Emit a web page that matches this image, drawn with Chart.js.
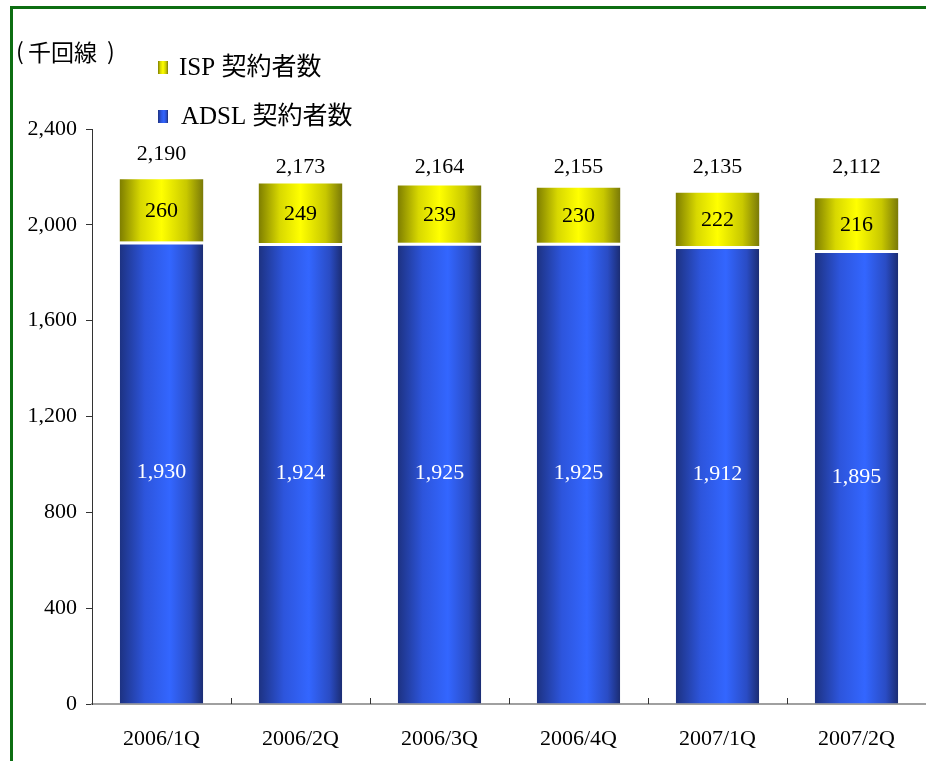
<!DOCTYPE html>
<html>
<head>
<meta charset="utf-8">
<script src="https://cdn.jsdelivr.net/npm/chart.js"></script>
<style>
  body { margin: 0; background: #fff; }
  #frame { position: absolute; left: 10px; top: 6px; width: 940px; height: 800px; border-left: 3px solid #0d6e12; border-top: 3px solid #0d6e12; }
  #chart { position: absolute; left: 0; top: 0; }
</style>
</head>
<body>
<div id="frame"></div>
<canvas id="chart" width="926" height="761"></canvas>
<script>
var quarters = ["2006/1Q", "2006/2Q", "2006/3Q", "2006/4Q", "2007/1Q", "2007/2Q"]
var adslValues = [1930, 1924, 1925, 1925, 1912, 1895]
var ispValues = [260, 249, 239, 230, 222, 216]
var totalValues = [2190, 2173, 2164, 2155, 2135, 2112]
var yTicks = [0, 400, 800, 1200, 1600, 2000, 2400]

var unitLabel = "千回線"
var ispLabel = "ISP 契約者数"
var adslLabel = "ADSL 契約者数"

var serif = '"Liberation Serif", "Noto Sans CJK JP", serif'
var barPct = 0.6

var blueStops = [[0, "#1d3282"], [0.3, "#2d55dc"], [0.6, "#3366ff"], [0.85, "#2a4cc4"], [1, "#1b2c72"]]
var yellowStops = [[0, "#7e7e00"], [0.25, "#d8d800"], [0.5, "#ffff00"], [0.8, "#c8c800"], [1, "#7a7a08"]]

function fmt(v) {
  return v.toLocaleString("en-US")
}

function makeGradient(ctx, x0, x1, stops) {
  var g = ctx.createLinearGradient(x0, 0, x1, 0)
  stops.forEach(function(s) { g.addColorStop(s[0], s[1]) })
  return g
}

function barFill(stops) {
  return function(context) {
    var chart = context.chart
    var xScale = chart.scales.x
    if (!xScale || !chart.chartArea || context.dataIndex == null) return stops[2][1]
    var center = xScale.getPixelForValue(context.dataIndex)
    var half = xScale.width / quarters.length * barPct / 2
    return makeGradient(chart.ctx, center - half, center + half, stops)
  }
}

var decorPlugin = {
  id: "decor",
  afterDatasetsDraw: function(chart) {
    var ctx = chart.ctx
    var xScale = chart.scales.x
    var yScale = chart.scales.y
    var adslMeta = chart.getDatasetMeta(0)
    var ispMeta = chart.getDatasetMeta(1)
    ctx.save()
    ctx.font = "22px " + serif
    ctx.textAlign = "center"
    ctx.textBaseline = "middle"
    adslMeta.data.forEach(function(el, i) {
      ctx.fillStyle = "#ffffff"
      ctx.fillText(fmt(adslValues[i]), el.x, (el.y + el.base) / 2)
    })
    ispMeta.data.forEach(function(el, i) {
      ctx.fillStyle = "#000000"
      ctx.fillText(fmt(ispValues[i]), el.x, (el.y + el.base) / 2 + 1)
      var ty = yScale.getPixelForValue(i == 0 ? 2295 : 2240)
      ctx.fillText(fmt(totalValues[i]), el.x, ty)
    })

    // category ticks point up from the axis
    var catW = xScale.width / quarters.length
    ctx.strokeStyle = "#333"
    ctx.lineWidth = 1
    for (var i = 1; i < quarters.length; i++) {
      var x = Math.round(xScale.left + catW * i) + 0.5
      ctx.beginPath()
      ctx.moveTo(x, yScale.bottom - 6)
      ctx.lineTo(x, yScale.bottom)
      ctx.stroke()
    }
    ctx.restore()
  },
  afterDraw: function(chart) {
    var ctx = chart.ctx
    ctx.save()
    ctx.textAlign = "left"
    ctx.textBaseline = "middle"
    ctx.fillStyle = "#000"
    ctx.font = '23px "Noto Sans CJK JP", sans-serif'
    ctx.fillText("(", 16, 51)
    ctx.fillText(unitLabel, 28, 52)
    ctx.fillText(")", 107, 51)

    ctx.font = "25px " + serif
    ctx.fillStyle = makeGradient(ctx, 158, 168, yellowStops)
    ctx.fillRect(158, 61, 10, 13)
    ctx.fillStyle = "#000"
    ctx.fillText(ispLabel, 179, 68)

    ctx.fillStyle = makeGradient(ctx, 158, 168, blueStops)
    ctx.fillRect(158, 110, 10, 13)
    ctx.fillStyle = "#000"
    ctx.fillText(adslLabel, 181, 117)
    ctx.restore()
  }
}

var ctx = document.getElementById("chart").getContext("2d")
var chart = new Chart(ctx, {
  type: "bar",
  data: {
    labels: quarters,
    datasets: [{
      label: adslLabel,
      data: adslValues,
      backgroundColor: barFill(blueStops),
      borderColor: "#ffffff",
      borderWidth: { top: 3, left: 0, right: 0, bottom: 0 },
      borderSkipped: false,
      barPercentage: barPct,
      categoryPercentage: 1
    }, {
      label: ispLabel,
      data: ispValues,
      backgroundColor: barFill(yellowStops),
      borderWidth: 0,
      barPercentage: barPct,
      categoryPercentage: 1
    }]
  },
  options: {
    responsive: false,
    animation: false,
    layout: { padding: { top: 129, left: 0, right: 0, bottom: 0 } },
    plugins: {
      legend: { display: false },
      tooltip: { enabled: false }
    },
    scales: {
      x: {
        stacked: true,
        grid: { display: true, drawOnChartArea: false, drawTicks: false, color: "rgba(0,0,0,0)" },
        border: { color: "#a0a0a0", width: 2 },
        ticks: { color: "#000", font: { family: serif, size: 22 }, padding: 22, maxRotation: 0 },
        afterFit: function(scale) { scale.height = 57 }
      },
      y: {
        stacked: true,
        min: 0,
        max: 2400,
        grid: { drawOnChartArea: false, tickLength: 6, color: "#333" },
        border: { color: "#333", width: 1 },
        ticks: {
          color: "#000",
          font: { family: serif, size: 22 },
          padding: 9,
          callback: function(v) { return fmt(v) }
        },
        afterBuildTicks: function(scale) {
          scale.ticks = yTicks.map(function(v) { return { value: v } })
        },
        afterFit: function(scale) { scale.width = 92 }
      }
    }
  },
  plugins: [decorPlugin]
})
</script>
</body>
</html>
